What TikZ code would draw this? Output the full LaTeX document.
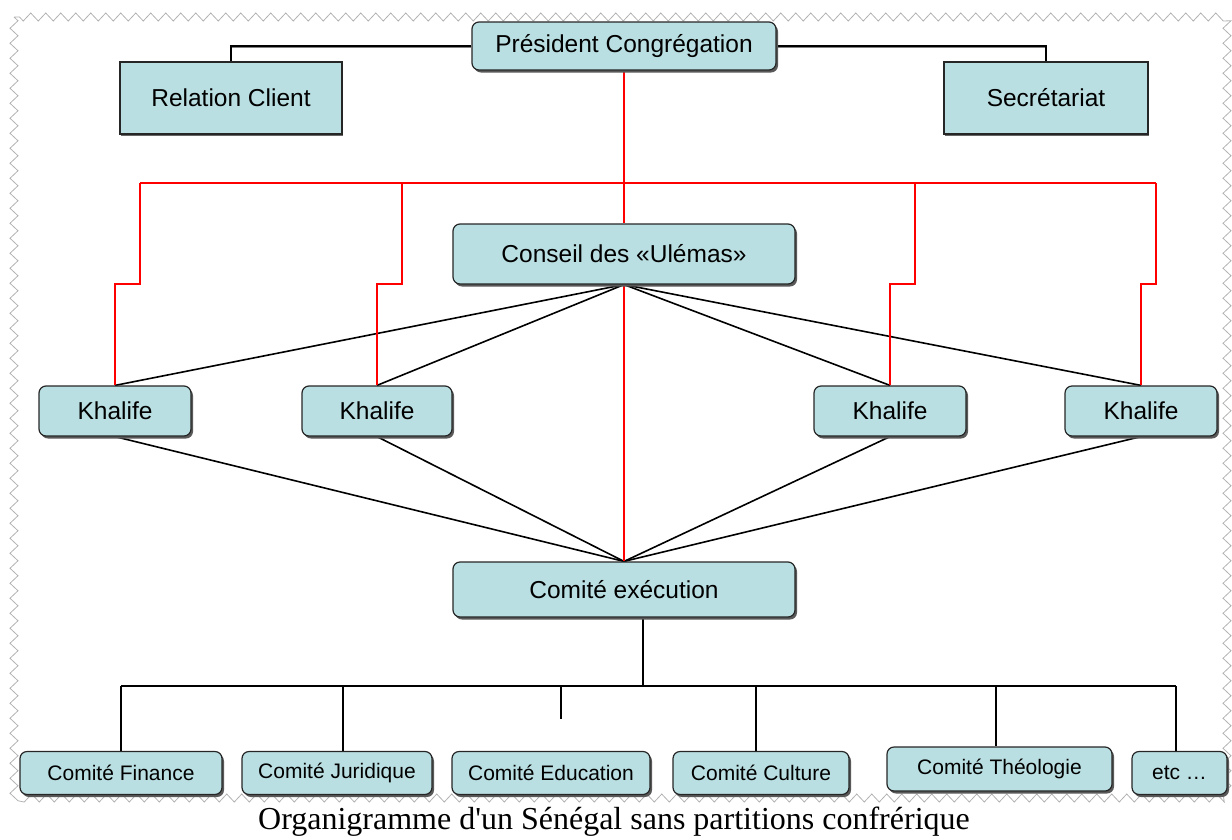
\documentclass[tikz,border=0pt]{standalone}
\usepackage{fontspec}
\setmainfont{Liberation Sans}
\newfontfamily\capfont{Liberation Serif}
\usetikzlibrary{shadows,backgrounds,decorations.pathmorphing}
\definecolor{boxfill}{RGB}{186,223,226}
\tikzset{
  box/.style={draw=black!85, line width=1.2pt, fill=boxfill, inner sep=0pt, align=center,
    font=\fontsize{24.5}{28}\selectfont},
  rbox/.style={box, rounded corners=7pt,
    drop shadow={shadow xshift=2pt, shadow yshift=-2.5pt, fill=black!65, opacity=1}},
  sqbox/.style={box, drop shadow={shadow xshift=1pt, shadow yshift=-1.5pt, fill=black!60, opacity=1}},
  smallbox/.style={rbox, font=\fontsize{21}{24}\selectfont},
  conn/.style={line width=1.6pt, black},
  redc/.style={line width=2pt, red},
  frame/.style={black!30, line width=0.8pt, decorate,
    decoration={zigzag, segment length=15pt, amplitude=4pt}}
}
\begin{document}
\begin{tikzpicture}[x=1pt,y=-1pt]
\useasboundingbox (0,0) rectangle (1232,839);
% nodes
\node[rbox, minimum width=304pt, minimum height=48pt] (pres) at (624,46) {Président Congrégation};
\node[sqbox, minimum width=222pt, minimum height=72pt] (rel) at (231,98) {Relation Client};
\node[sqbox, minimum width=204pt, minimum height=72pt] (sec) at (1046,98) {Secrétariat};
\node[rbox, minimum width=342pt, minimum height=60pt] (cons) at (624,254) {Conseil des «Ulémas»};
\node[rbox, minimum width=152pt, minimum height=50pt] (k1) at (115,411) {Khalife};
\node[rbox, minimum width=150pt, minimum height=50pt] (k2) at (377,411) {Khalife};
\node[rbox, minimum width=152pt, minimum height=50pt] (k3) at (890,411) {Khalife};
\node[rbox, minimum width=152pt, minimum height=50pt] (k4) at (1141,411) {Khalife};
\node[rbox, minimum width=342pt, minimum height=55pt] (exe) at (624,589.5) {Comité exécution};
\node[smallbox, minimum width=202pt, minimum height=43pt] (cf) at (121,773) {Comité Finance};
\node[smallbox, minimum width=190pt, minimum height=43pt] (cj) at (337,773) {Comité Juridique};
\node[smallbox, minimum width=198pt, minimum height=43pt] (ce) at (551,773) {Comité Education};
\node[smallbox, minimum width=176pt, minimum height=43pt] (cc) at (761,773) {Comité Culture};
\node[smallbox, minimum width=225pt, minimum height=44pt] (ct) at (999.5,769) {Comité Théologie};
\node[smallbox, minimum width=95pt, minimum height=43pt] (etcb) at (1179.5,773) {etc …};
\node[font=\capfont\fontsize{32}{36}\selectfont, inner sep=0pt] (cap) at (614,822) {Organigramme d'un Sénégal sans partitions confrérique};
% coordinates
\coordinate (rl) at (140,183);
\coordinate (r2) at (402,183);
\coordinate (r3) at (915,183);
\coordinate (rr) at (1156,183);
\coordinate (b1) at (121,686);
\coordinate (b2) at (343,686);
\coordinate (b3) at (561,686);
\coordinate (b4) at (756,686);
\coordinate (b5) at (996,686);
\coordinate (b6) at (1176,686);
\coordinate (estub) at (561,719);
\begin{scope}[on background layer]
\draw[frame] (14,17) rectangle (1227,798);
% top connectors
\draw[conn, black!50, transform canvas={yshift=-1.5pt}] (pres.west) -| (rel.north);
\draw[conn, black!50, transform canvas={yshift=-1.5pt}] (pres.east) -| (sec.north);
\draw[conn] (pres.west) -| (rel.north);
\draw[conn] (pres.east) -| (sec.north);
% black diagonals
\foreach \k in {k1,k2,k3,k4} {
  \draw[conn] (\k.north) -- (cons.south);
  \draw[conn] (\k.south) -- (exe.north);
}
% red lines
\draw[redc] (pres.south) -- (cons.north);
\draw[redc] (rl) -- (rr);
\draw[redc] (rl) -- ++(0,101) -| (k1.north);
\draw[redc] (r2) -- ++(0,101) -| (k2.north);
\draw[redc] (r3) -- ++(0,101) -| (k3.north);
\draw[redc] (rr) -- ++(0,101) -| (k4.north);
\draw[redc] (cons.south) -- (exe.north);
% bottom tree
\draw[conn] ([xshift=19pt]exe.south) -- ([xshift=19pt]exe.south |- b1);
\draw[conn] (b1) -- (b6);
\draw[conn] (b1) -- (b1 |- cf.north);
\draw[conn] (b2) -- (b2 |- cj.north);
\draw[conn] (b3) -- (estub);
\draw[conn] (b4) -- (b4 |- cc.north);
\draw[conn] (b5) -- (b5 |- ct.north);
\draw[conn] (b6) -- (b6 |- etcb.north);
\end{scope}
\end{tikzpicture}
\end{document}
